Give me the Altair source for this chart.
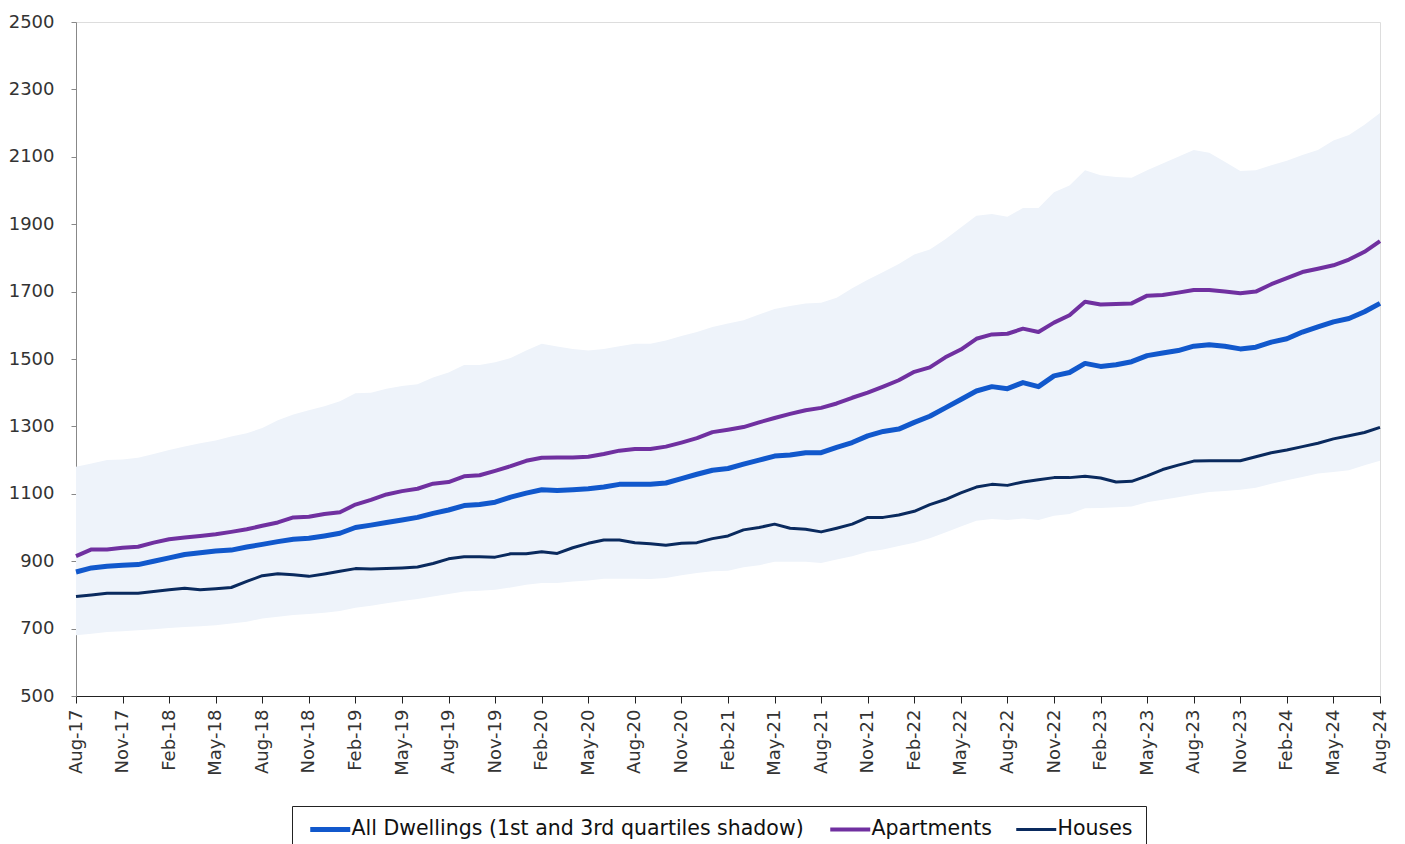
import altair as alt
import pandas as pd

months = [d.strftime("%b-%y") for d in pd.date_range("2017-08-01", "2024-08-01", freq="MS")]

all_dwellings = [868, 880, 885, 888, 890, 900, 910, 920, 925, 930, 933, 942, 950, 958, 965, 968, 975, 983,
                 1000, 1007, 1015, 1022, 1030, 1042, 1052, 1065, 1068, 1075, 1090, 1102, 1112, 1110, 1112,
                 1115, 1120, 1128, 1128, 1128, 1132, 1145, 1158, 1170, 1175, 1188, 1200, 1212, 1215, 1222,
                 1222, 1238, 1252, 1272, 1285, 1292, 1312, 1330, 1355, 1380, 1405, 1418, 1412, 1430, 1418,
                 1450, 1460, 1487, 1478, 1483, 1492, 1510, 1518, 1525, 1538, 1542, 1538, 1530, 1535, 1550,
                 1560, 1580, 1595, 1610, 1620, 1640, 1665]
apartments = [915, 935, 935, 940, 943, 955, 965, 970, 975, 980, 987, 995, 1005, 1015, 1030, 1032, 1040, 1045,
              1068, 1082, 1098, 1108, 1115, 1130, 1135, 1152, 1155, 1168, 1182, 1198, 1207, 1208, 1208,
              1210, 1218, 1228, 1233, 1233, 1240, 1252, 1265, 1283, 1290, 1298, 1312, 1325, 1337, 1348,
              1355, 1368, 1385, 1400, 1418, 1437, 1462, 1475, 1505, 1528, 1560, 1573, 1575, 1590, 1580,
              1608, 1630, 1670, 1662, 1663, 1665, 1688, 1690, 1697, 1705, 1705, 1700, 1695, 1700, 1722,
              1740, 1758, 1768, 1778, 1795, 1818, 1850]
houses = [795, 800, 805, 805, 805, 810, 815, 820, 815, 818, 822, 840, 857, 863, 860, 855, 862, 870,
          878, 877, 878, 880, 883, 893, 907, 913, 913, 912, 922, 922, 928, 923, 940,
          953, 963, 963, 955, 952, 947, 953, 955, 967, 975, 993, 1000, 1010, 998, 995,
          987, 998, 1010, 1030, 1030, 1037, 1048, 1068, 1083, 1103, 1120, 1128, 1125, 1135, 1142,
          1148, 1148, 1152, 1147, 1135, 1137, 1153, 1172, 1185, 1197, 1198, 1198, 1198, 1210, 1222,
          1230, 1240, 1250, 1263, 1272, 1282, 1297]
q3 = [1180, 1190, 1200, 1202, 1207, 1218, 1230, 1240, 1250, 1258, 1270, 1280, 1295, 1318, 1335, 1348, 1360, 1375,
      1398, 1400, 1412, 1420, 1425, 1445, 1460, 1482, 1482, 1490, 1503, 1525, 1545, 1537, 1530,
      1525, 1530, 1538, 1545, 1545, 1555, 1568, 1580, 1595, 1605, 1615, 1632, 1648, 1657, 1665,
      1667, 1682, 1710, 1735, 1758, 1782, 1810, 1825, 1855, 1890, 1925, 1930, 1922, 1948, 1948,
      1995, 2015, 2060, 2045, 2040, 2038, 2060, 2080, 2100, 2120, 2112, 2085, 2058, 2060, 2075,
      2088, 2105, 2120, 2148, 2165, 2195, 2230]
q1 = [680, 685, 690, 692, 695, 698, 702, 705, 707, 710, 715, 720, 730, 735, 740, 743, 747, 752,
      762, 768, 775, 782, 788, 795, 803, 810, 812, 815, 822, 830, 835, 835, 840,
      843, 848, 848, 848, 847, 850, 858, 865, 870, 872, 882, 888, 898, 898, 898,
      895, 905, 915, 928, 935, 945, 955, 968, 985, 1003, 1020, 1025, 1022, 1027, 1022,
      1035, 1040, 1057, 1058, 1060, 1062, 1075, 1082, 1090, 1098, 1105, 1108, 1112, 1118, 1130,
      1140, 1150, 1160, 1165, 1170, 1185, 1198]

series_names = ["All Dwellings (1st and 3rd quartiles shadow)", "Apartments", "Houses"]
series_colors = ["#1158CC", "#7030A0", "#0A2A5E"]
series_widths = [5, 3, 3.5]
tick_labels = months[::3]
y_ticks = [500, 700, 900, 1100, 1300, 1500, 1700, 1900, 2100, 2300, 2500]

FONT = "DejaVu Sans"

band_df = pd.DataFrame({"month": months, "q1": q1, "q3": q3})
rows = []
for name, vals in zip(series_names, [all_dwellings, apartments, houses]):
    for m, v in zip(months, vals):
        rows.append({"month": m, "series": name, "value": v})
line_df = pd.DataFrame(rows)

x_enc = alt.X(
    "month:O",
    sort=months,
    scale=alt.Scale(type="point", padding=0, domain=months),
    axis=alt.Axis(
        title=None, values=tick_labels, labelAngle=270, labelAlign="right", labelBaseline="middle",
        labelFontSize=18, labelFont=FONT, labelColor="#333", tickSize=7, tickColor="#222",
        domainColor="#222", labelPadding=6, grid=False,
    ),
)

y_scale = alt.Scale(domain=[500, 2500], nice=False, zero=False)
y_axis = alt.Axis(
    title=None, values=y_ticks, format="d", labelFontSize=18, labelFont=FONT,
    labelColor="#333", tickSize=5, tickColor="#888", domainColor="#888", labelPadding=17, grid=False,
)

band = alt.Chart(band_df).mark_area(color="#EEF3FA", opacity=1).encode(
    x=x_enc,
    y=alt.Y("q1:Q", scale=y_scale, axis=y_axis),
    y2="q3:Q",
)

lines = alt.Chart(line_df).mark_line(strokeJoin="round").encode(
    x=x_enc,
    y=alt.Y("value:Q", scale=y_scale, axis=y_axis),
    color=alt.Color(
        "series:N",
        sort=series_names,
        scale=alt.Scale(domain=series_names, range=series_colors),
        legend=alt.Legend(
            title=None, orient="none", legendX=216, legendY=784, direction="horizontal",
            symbolType="M-1,0H7", symbolSize=100, symbolStrokeWidth=4,
            labelFontSize=20.5, labelFont=FONT, labelColor="#111", labelLimit=700,
            labelOffset=26, columnPadding=18, padding=13,
            strokeColor="#222", fillColor="white",
        ),
    ),
    strokeWidth=alt.StrokeWidth(
        "series:N", scale=alt.Scale(domain=series_names, range=series_widths), legend=None
    ),
)

chart = alt.layer(band, lines).properties(
    width=1304, height=674, padding={"left": 0, "top": 5, "right": 5, "bottom": 0}
).configure_view(stroke=None).configure(background="white")

chart.save("out.html", embed_options={"renderer": "svg", "actions": False})
